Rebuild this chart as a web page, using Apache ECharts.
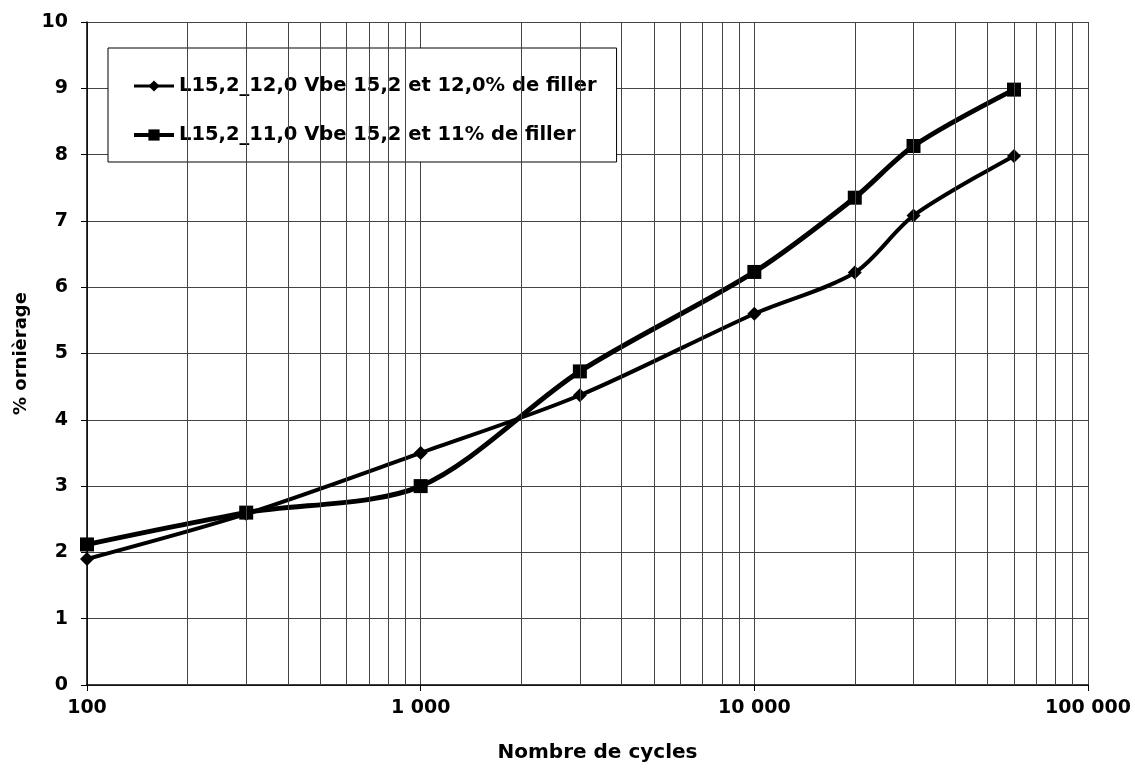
<!DOCTYPE html>
<html><head><meta charset="utf-8">
<script src="https://cdn.jsdelivr.net/npm/echarts@6/dist/echarts.min.js"></script>
<style>html,body{margin:0;padding:0;background:#fff}#c{width:1135px;height:768px}</style>
</head><body><div id="c"></div>
<script>
const cycles = [100, 300, 1000, 3000, 10000, 20000, 30000, 60000];
const serie120 = [1.9, 2.58, 3.5, 4.37, 5.6, 6.22, 7.08, 7.98];
const serie110 = [2.12, 2.6, 3.0, 4.73, 6.23, 7.35, 8.13, 8.98];
const seriesNames = ['L15,2_12,0 Vbe 15,2 et 12,0% de filler', 'L15,2_11,0 Vbe 15,2 et 11% de filler'];
const minorX = [];
[100, 1000, 10000].forEach(d => { for (let k = 2; k <= 9; k++) minorX.push(d * k); });

const font = 'DejaVu Sans, sans-serif';
const chart = echarts.init(document.getElementById('c'));
chart.setOption({
  animation: false,
  backgroundColor: '#fff',
  grid: { left: 87, right: 47, top: 22, bottom: 77 },
  legend: {
    orient: 'vertical', left: 108, top: 48,
    padding: [28, 20, 17, 24], itemGap: 29,
    itemWidth: 40, itemHeight: 14,
    backgroundColor: '#fff', borderColor: '#000', borderWidth: 1,
    textStyle: { fontFamily: font, fontWeight: 'bold', fontSize: 19.5, color: '#000' },
    data: [
      { name: seriesNames[0], lineStyle: { width: 3, color: '#000' } },
      { name: seriesNames[1], lineStyle: { width: 4, color: '#000' } }
    ]
  },
  xAxis: {
    type: 'log', logBase: 10, min: 100, max: 100000,
    name: 'Nombre de cycles', nameLocation: 'middle', nameGap: 58,
    nameTextStyle: { fontFamily: font, fontWeight: 'bold', fontSize: 20, color: '#000', padding: [0, 0, 0, 20] },
    axisLine: { lineStyle: { color: '#000', width: 1.5 } },
    axisTick: { show: true, length: 6, inside: false, lineStyle: { color: '#000' } },
    axisLabel: { fontFamily: font, fontWeight: 'bold', fontSize: 19, color: '#000', margin: 14,
      formatter: v => String(Math.round(v)).replace(/\B(?=(\d{3})+(?!\d))/g, ' ') },
    splitLine: { show: true, lineStyle: { color: '#444', width: 1 } }
  },
  yAxis: {
    type: 'value', min: 0, max: 10, interval: 1,
    name: '% ornièrage', nameLocation: 'middle', nameGap: 56, nameRotate: 90,
    nameTextStyle: { fontFamily: font, fontWeight: 'bold', fontSize: 18, color: '#000' },
    axisLine: { show: true, lineStyle: { color: '#000', width: 1.5 } },
    axisTick: { show: true, length: 6, lineStyle: { color: '#000' } },
    axisLabel: { fontFamily: font, fontWeight: 'bold', fontSize: 19, color: '#000', margin: 19 },
    splitLine: { show: true, lineStyle: { color: '#444', width: 1 } }
  },
  series: [
    {
      name: seriesNames[0], type: 'line', smooth: 0.3,
      data: cycles.map((c, i) => [c, serie120[i]]),
      symbol: 'diamond', symbolSize: 14,
      lineStyle: { color: '#000', width: 4 }, itemStyle: { color: '#000' },
      markLine: {
        silent: true, symbol: 'none', label: { show: false },
        lineStyle: { color: '#444', width: 1, type: 'solid' },
        data: minorX.map(v => ({ xAxis: v }))
      },
      z: 3
    },
    {
      name: seriesNames[1], type: 'line', smooth: 0.3,
      data: cycles.map((c, i) => [c, serie110[i]]),
      symbol: 'rect', symbolSize: 14,
      lineStyle: { color: '#000', width: 5 }, itemStyle: { color: '#000' },
      z: 4
    }
  ]
});
</script></body></html>
